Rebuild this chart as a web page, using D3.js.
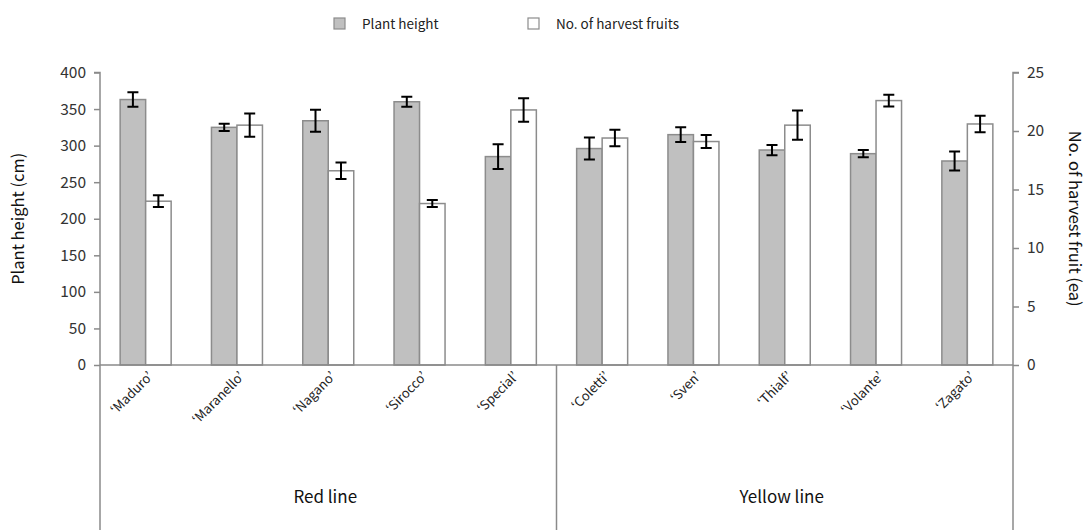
<!DOCTYPE html>
<html>
<head>
<meta charset="utf-8">
<script src="https://cdn.jsdelivr.net/npm/d3@7"></script>
<style>
  html, body { margin: 0; padding: 0; background: #fff; }
  svg { display: block; font-family: "Noto Sans CJK KR", "Noto Sans", sans-serif; }
</style>
</head>
<body>
<svg id="chart" width="1090" height="530"></svg>
<script>
// Cultivars, grouped by breeding line
const cultivars = ["‘Maduro’", "‘Maranello’", "‘Nagano’", "‘Sirocco’", "‘Special’",
                   "‘Coletti’", "‘Sven’", "‘Thialf’", "‘Volante’", "‘Zagato’"];
const lineGroups = ["Red line", "Yellow line"];
const lineSizes = [5, 5];

// Plant height (cm) with standard error
const plantHeight    = [363, 325, 334, 360, 285, 296, 315, 294, 289, 279];
const plantHeightErr = [10, 5, 15, 7, 17, 15, 10, 7, 5, 13];

// Number of harvested fruits (ea) with standard error
const fruitCount    = [14.0, 20.5, 16.6, 13.8, 21.8, 19.4, 19.1, 20.5, 22.6, 20.6];
const fruitCountErr = [0.5, 1.0, 0.7, 0.3, 1.0, 0.7, 0.55, 1.25, 0.5, 0.7];

const leftTicks  = [0, 50, 100, 150, 200, 250, 300, 350, 400];
const rightTicks = [0, 5, 10, 15, 20, 25];
const seriesNames = ["Plant height", "No. of harvest fruits"];

const svg = d3.select("#chart");
const plotLeft = 100, plotRight = 1013, plotTop = 72.5, plotBottom = 365;
const axisColor = "#8a8a8a";
const barStroke = "#8c8c8c";
const grayFill = "#c0c0c0";

const x = d3.scaleBand().domain(cultivars).range([plotLeft, plotRight]).padding(0);
const yL = d3.scaleLinear().domain([0, 400]).range([plotBottom, plotTop]);
const yR = d3.scaleLinear().domain([0, 25]).range([plotBottom, plotTop]);
const barW = 25.5;
const xs = d3.scaleBand().domain([0, 1]).range([-barW, barW]);

// Left axis
const gL = svg.append("g").attr("transform", `translate(${plotLeft},0)`)
  .call(d3.axisLeft(yL).tickValues(leftTicks).tickSize(6).tickPadding(8));
gL.select(".domain").attr("stroke", axisColor).attr("stroke-width", 1.5).attr("d", `M-6,${plotTop}H0V${plotBottom}`);
gL.selectAll(".tick line").attr("stroke", axisColor).attr("stroke-width", 1.5);
gL.selectAll(".tick text").attr("fill", "#333").attr("font-size", 15.5)
  .attr("font-family", "Noto Sans CJK KR");

// Right axis
const gR = svg.append("g").attr("transform", `translate(${plotRight},0)`)
  .call(d3.axisRight(yR).tickValues(rightTicks).tickSize(6).tickPadding(8));
gR.select(".domain").attr("stroke", axisColor).attr("stroke-width", 1.5).attr("d", `M6,${plotTop}H0V${plotBottom}`);
gR.selectAll(".tick line").attr("stroke", axisColor).attr("stroke-width", 1.5);
gR.selectAll(".tick text").attr("fill", "#333").attr("font-size", 15.5)
  .attr("font-family", "Noto Sans CJK KR");

// Bars
const rows = cultivars.map((c, i) => ({
  c, h: plantHeight[i], he: plantHeightErr[i], f: fruitCount[i], fe: fruitCountErr[i]
}));
const groups = svg.append("g").selectAll("g").data(rows).join("g")
  .attr("transform", d => `translate(${x(d.c) + x.bandwidth() / 2},0)`);

groups.append("rect")
  .attr("x", xs(0)).attr("width", xs.bandwidth())
  .attr("y", d => yL(d.h)).attr("height", d => yL(0) - yL(d.h))
  .attr("fill", grayFill).attr("stroke", barStroke).attr("stroke-width", 1.5);
groups.append("rect")
  .attr("x", xs(1)).attr("width", xs.bandwidth())
  .attr("y", d => yR(d.f)).attr("height", d => yR(0) - yR(d.f))
  .attr("fill", "#fff").attr("stroke", barStroke).attr("stroke-width", 1.5);

// Error bars
function errorBar(g, cx, yTop, yBot) {
  const cap = 5.5;
  g.append("path")
    .attr("d", `M${cx},${yTop}V${yBot}M${cx - cap},${yTop}H${cx + cap}M${cx - cap},${yBot}H${cx + cap}`)
    .attr("stroke", "#000").attr("stroke-width", 2).attr("fill", "none");
}
groups.each(function (d) {
  const g = d3.select(this);
  errorBar(g, xs(0) + xs.bandwidth() / 2, yL(d.h + d.he), yL(d.h - d.he));
  errorBar(g, xs(1) + xs.bandwidth() / 2, yR(d.f + d.fe), yR(d.f - d.fe));
});

// Category axis baseline
svg.append("line").attr("x1", plotLeft).attr("x2", plotRight).attr("y1", plotBottom).attr("y2", plotBottom)
  .attr("stroke", axisColor).attr("stroke-width", 1.5);

// Cultivar labels, slanted 45 degrees
svg.append("g").selectAll("text").data(cultivars).join("text")
  .attr("transform", d => `translate(${x(d) + x.bandwidth() / 2 + 5},${plotBottom + 9}) rotate(-45)`)
  .attr("text-anchor", "end")
  .attr("dy", "0.35em")
  .attr("font-size", 13)
  .attr("fill", "#222")
  .text(d => d);

// Line group dividers and labels
let start = 0;
const bounds = [0];
lineSizes.forEach(n => { start += n; bounds.push(start); });
svg.append("g").selectAll("line").data(bounds).join("line")
  .attr("x1", i => i < cultivars.length ? x(cultivars[i]) : plotRight)
  .attr("x2", i => i < cultivars.length ? x(cultivars[i]) : plotRight)
  .attr("y1", plotBottom).attr("y2", 530)
  .attr("stroke", axisColor).attr("stroke-width", 1.5);
svg.append("g").selectAll("text").data(lineGroups).join("text")
  .attr("x", (d, i) => {
    const a = x(cultivars[bounds[i]]);
    const b = bounds[i + 1] < cultivars.length ? x(cultivars[bounds[i + 1]]) : plotRight;
    return (a + b) / 2 - 3;
  })
  .attr("y", 503).attr("text-anchor", "middle")
  .attr("font-size", 17).attr("fill", "#111")
  .text(d => d);

// Axis titles
svg.append("text")
  .attr("transform", `translate(24,${(plotTop + plotBottom) / 2}) rotate(-90)`)
  .attr("text-anchor", "middle").attr("font-size", 16.5).attr("fill", "#111")
  .text("Plant height (cm)");
svg.append("text")
  .attr("transform", `translate(1069,${(plotTop + plotBottom) / 2}) rotate(90)`)
  .attr("text-anchor", "middle").attr("font-size", 16.5).attr("fill", "#111")
  .text("No. of harvest fruit (ea)");

// Legend
const legendX = [334, 528];
const legend = svg.append("g").selectAll("g").data(seriesNames).join("g")
  .attr("transform", (d, i) => `translate(${legendX[i]},18)`);
legend.append("rect").attr("width", 11).attr("height", 11)
  .attr("fill", (d, i) => i === 0 ? grayFill : "#fff")
  .attr("stroke", barStroke).attr("stroke-width", 1.2);
legend.append("text").attr("x", 28).attr("y", 6).attr("dy", "0.35em")
  .attr("font-size", 13.5).attr("fill", "#222")
  .text(d => d);
</script>
</body>
</html>
